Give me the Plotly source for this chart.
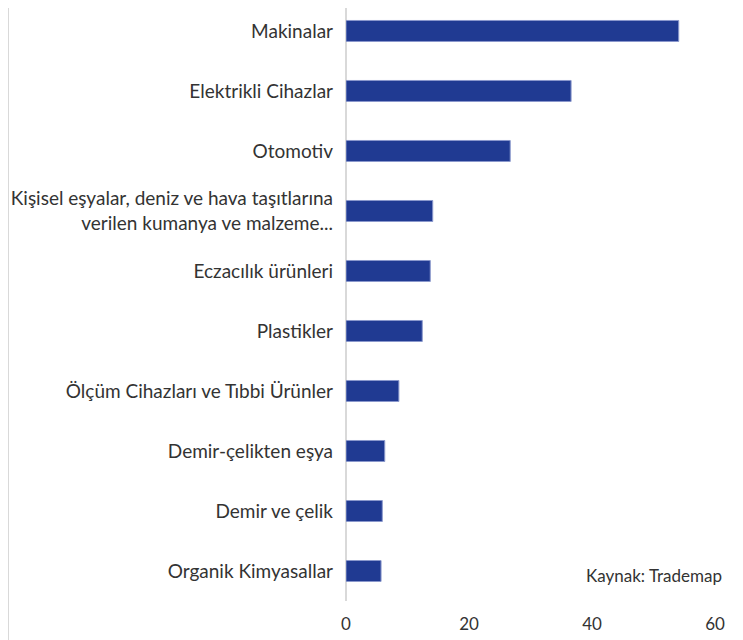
import plotly.graph_objects as go

categories = [
    "Makinalar",
    "Elektrikli Cihazlar",
    "Otomotiv",
    "Kişisel eşyalar, deniz ve hava taşıtlarına<br>verilen kumanya ve malzeme...",
    "Eczacılık ürünleri",
    "Plastikler",
    "Ölçüm Cihazları ve Tıbbi Ürünler",
    "Demir-çelikten eşya",
    "Demir ve çelik",
    "Organik Kimyasallar",
]
values = [54.1, 36.6, 26.7, 14.1, 13.7, 12.4, 8.6, 6.3, 5.9, 5.7]
x_ticks = [0, 20, 40, 60]
source_text = "Kaynak: Trademap"

FONT = "Lato"
TXT = "#333333"

fig = go.Figure(go.Bar(
    x=values, y=categories, orientation="h",
    marker=dict(color="#203a92", line=dict(color="#8a98cc", width=1)),
))

fig.update_layout(
    width=743, height=640,
    margin=dict(l=338, r=36, t=0, b=47, autoexpand=False),
    paper_bgcolor="white", plot_bgcolor="white",
    bargap=0.65, showlegend=False,
    font=dict(family=FONT, size=19, color=TXT),
    xaxis=dict(range=[0, 60], tickvals=x_ticks, showgrid=False, zeroline=False,
               showline=False, ticks="", ticklabelstandoff=11,
               tickfont=dict(size=17, color=TXT)),
    yaxis=dict(range=[9.5, -0.383], showgrid=False, zeroline=False,
               showline=False, ticks="",
               ticklabelstandoff=12, tickfont=dict(size=19, color=TXT)),
    annotations=[dict(text=source_text, xref="paper", yref="paper",
                      x=1.0244, y=0.0438, xanchor="right", yanchor="middle",
                      showarrow=False, font=dict(size=17, color=TXT, family=FONT))],
    shapes=[
        dict(type="line", xref="paper", yref="paper", x0=0, x1=0,
             y0=0, y1=1.02, line=dict(color="#d9d9d9", width=2), layer="below"),
        dict(type="line", xref="paper", yref="paper", x0=-0.916, x1=-0.916,
             y0=-0.2, y1=1.2, line=dict(color="#d9d9d9", width=2)),
        dict(type="line", xref="paper", yref="paper", x0=1.0596, x1=1.0596,
             y0=-0.2, y1=1.2, line=dict(color="#d9d9d9", width=2)),
    ],
)

fig.write_html("out.html")
